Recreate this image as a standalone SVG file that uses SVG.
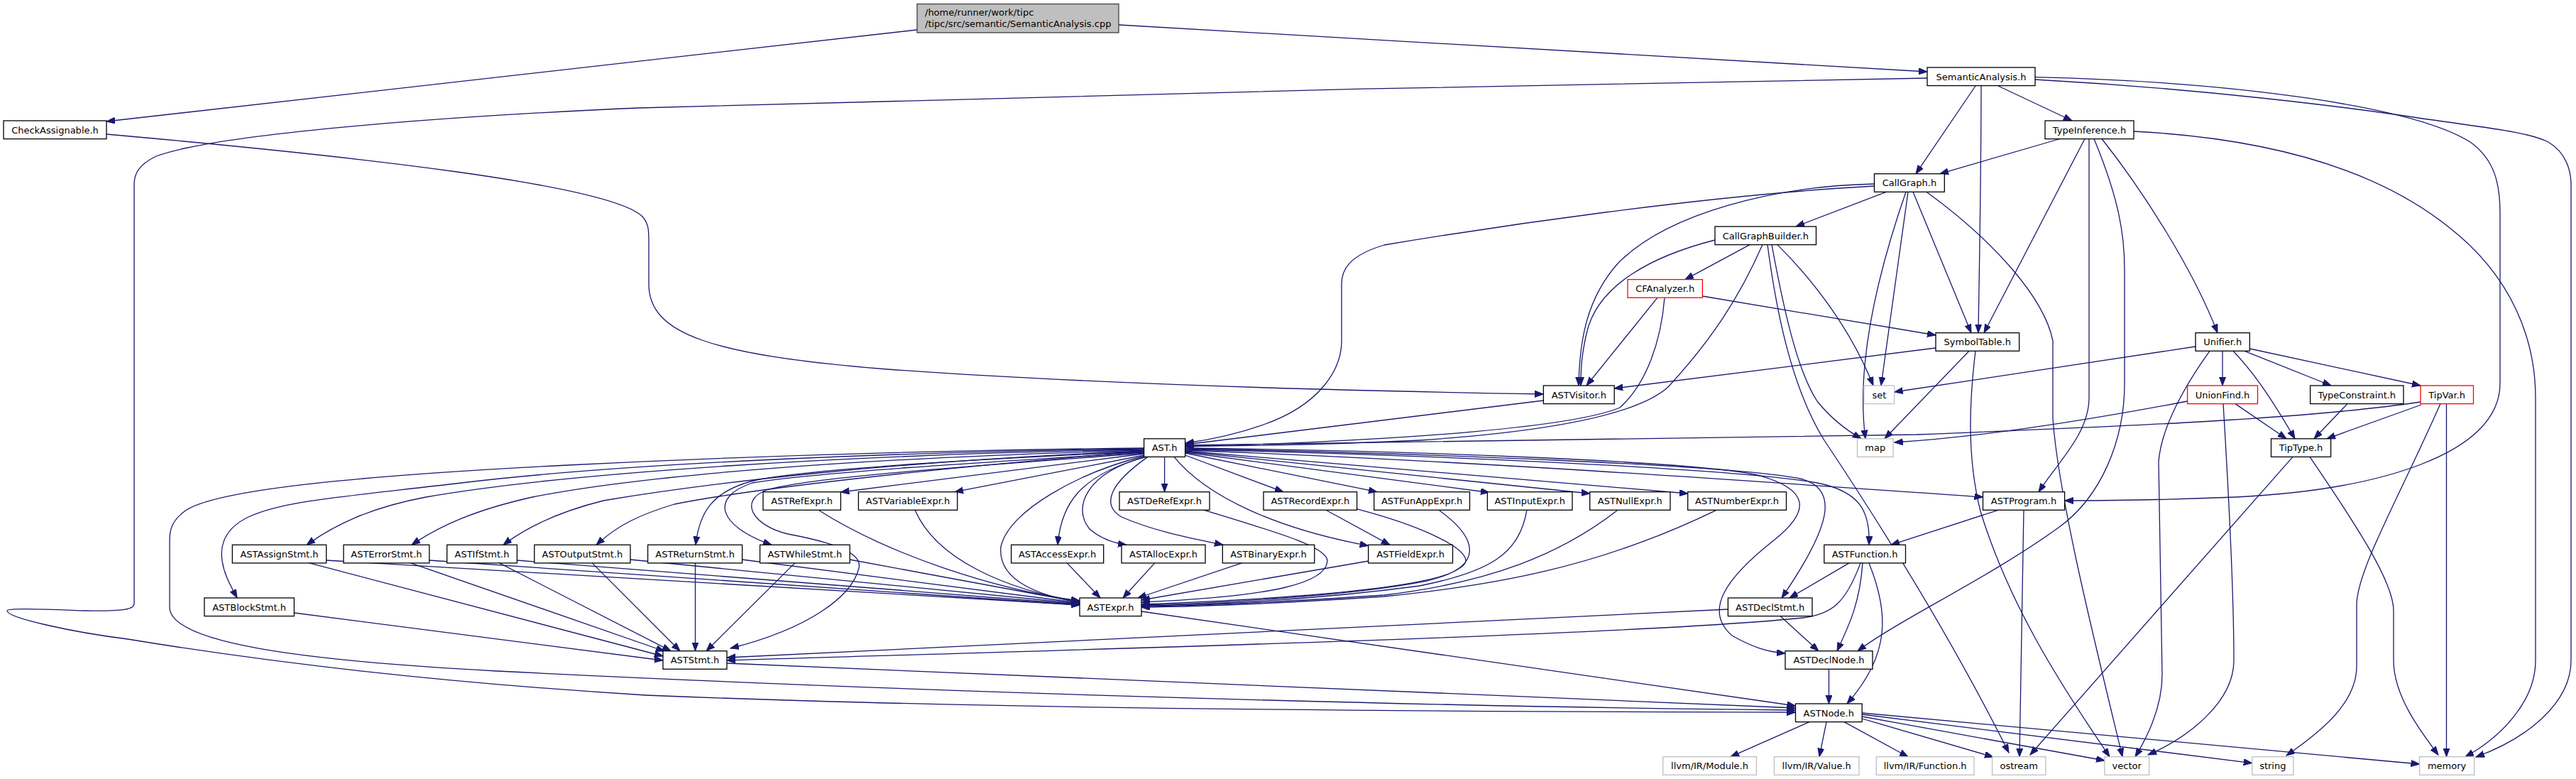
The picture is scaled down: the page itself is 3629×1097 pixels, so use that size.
<svg xmlns="http://www.w3.org/2000/svg" width="3629" height="1097" viewBox="0 0 3629 1097">
<defs>
<marker id="a" markerWidth="13" markerHeight="10" refX="12" refY="4.5" orient="auto" markerUnits="userSpaceOnUse"><path d="M0,0 L12,4.5 L0,9 z" fill="#191970" stroke="#191970" stroke-width="1"/></marker>
<style>
.e path{fill:none;stroke:#191970;stroke-width:1.3;marker-end:url(#a)}
.n rect{fill:#fff;stroke:#000;stroke-width:1.3}
.g rect{fill:#fff;stroke:#bfbfbf;stroke-width:1.3}
.r rect{fill:#fff;stroke:#ff0000;stroke-width:1.3}
text{font-family:"DejaVu Sans","Liberation Sans",sans-serif;font-size:13px;fill:#000;text-anchor:middle}
.root rect{fill:#bfbfbf;stroke:#404040;stroke-width:1.3}
.root text{text-anchor:start}
</style>
</defs>
<rect width="3629" height="1097" fill="#fff"/>
<g id="edges" class="e">
<path d="M1292,42 L150,171"/>
<path d="M1576,35 L2715,101"/>
<path d="M2783,121 L2699,244.7"/>
<path d="M2791,121 C2791,250 2788,400 2787,468.7"/>
<path d="M2815,121 L2919,170"/>
<path d="M2867,108.7 C3150,115 3400,150 3480,200 C3515,225 3522,260 3522,300 L3522,540 C3522,640 3350,690 3150,700 C3050,704 2960,705 2908.6,705"/>
<path d="M2867,112 C3100,125 3300,150 3400,165 C3500,180 3560,185 3590,200 C3615,215 3622,240 3622,260 L3622,930 C3622,990 3560,1040 3488,1066"/>
<path d="M2715,110 C2200,118 1200,140 900,152 C600,165 300,190 220,220 C195,232 189,245 189,260 L189,850 C189,858 175,861 120,860 C60,858 10,856 10,860 C10,870 100,890 180,900 C350,928 600,960 910,979 C1300,995 1800,1002 2529.5,1003"/>
<path d="M150,189 C500,220 860,260 905,305 C914,315 914,325 914,340 L914,400 C914,470 1000,500 1250,520 C1600,545 2000,552 2174.4,555"/>
<path d="M2902,195.5 L2733,244.7"/>
<path d="M2937,195.5 L2795,468.7"/>
<path d="M2943,195.5 L2943,560 C2943,610 2900,650 2872,692.7"/>
<path d="M2950,195.5 C2985,280 2993,330 2993,380 L2993,540 C2993,620 2960,700 2900,743 C2800,815 2680,870 2617,916.7"/>
<path d="M2961,195.5 C3020,270 3090,380 3124,468.7"/>
<path d="M3006,185 C3200,195 3350,240 3450,320 C3540,390 3572,480 3572,560 L3572,930 C3572,990 3520,1040 3473,1065.7"/>
<path d="M2657,270.3 L2530,319"/>
<path d="M2640.5,259 C2500,262 2350,300 2280,370 C2235,420 2225,480 2224,543"/>
<path d="M2640.5,262 C2400,275 2100,320 1950,345 C1900,360 1890,380 1890,400 L1890,480 C1890,520 1860,570 1780,598 C1740,612 1700,620 1670,624"/>
<path d="M2688,270.3 L2650,543"/>
<path d="M2685,270.3 C2640,400 2615,520 2628,617.8"/>
<path d="M2695,270.3 L2777,468.7"/>
<path d="M2714,270.3 C2810,340 2880,420 2892,480 L2892,590 C2900,700 2950,900 2990,1065.7"/>
<path d="M2465,344.6 L2374,393.6"/>
<path d="M2416,338 C2330,360 2250,400 2235,470 C2228,500 2227,520 2227,543"/>
<path d="M2483,344.6 C2450,420 2410,480 2350,545 C2300,590 2150,610 2000,620 C1850,627 1720,628 1670,628"/>
<path d="M2504,344.6 C2560,400 2610,470 2639,543"/>
<path d="M2496,344.6 C2510,420 2530,520 2560,565 C2580,590 2600,605 2622,617.8"/>
<path d="M2490,344.6 C2500,420 2520,540 2570,620 C2650,740 2750,900 2830,1060"/>
<path d="M2398.4,417 L2727,472"/>
<path d="M2335,419.2 L2235,543"/>
<path d="M2345,419.2 C2340,480 2320,540 2282,574 C2220,600 2000,620 1670,629"/>
<path d="M2727,490 L2274.2,547"/>
<path d="M2774,494.3 L2655,617.8"/>
<path d="M2783,494.3 C2775,560 2770,640 2790,720 C2830,850 2900,960 2972,1065.7"/>
<path d="M2174.4,564 L1670,626"/>
<path d="M3093,488 L2668.7,552"/>
<path d="M3131,494.3 L3131,543"/>
<path d="M3113,494.3 C3080,540 3045,600 3041,650 L3046,950 C3046,990 3030,1030 3008,1065.7"/>
<path d="M3146,494.3 C3180,530 3205,570 3233,617.8"/>
<path d="M3162,494.3 L3284,543"/>
<path d="M3169.3,491 L3410,543"/>
<path d="M3081.6,565 C2950,590 2800,615 2668.7,623"/>
<path d="M3149,568.6 L3221,617.8"/>
<path d="M3132,568.6 C3140,700 3147,850 3147,930 C3147,990 3080,1040 3026,1063"/>
<path d="M3307,568.6 L3260,617.8"/>
<path d="M3411,570 L3278,617.8"/>
<path d="M3410,566 C3250,590 3000,600 2700,612 C2300,620 1900,626 1670,627"/>
<path d="M3438,568.6 C3380,700 3322,800 3320,850 L3320,938 C3320,990 3270,1030 3221,1064"/>
<path d="M3446.5,568.6 L3446.5,1065.7"/>
<path d="M3230,643.4 L2860,1063"/>
<path d="M3254,643.4 C3320,740 3372,820 3372,860 L3372,930 C3372,980 3410,1030 3435,1063"/>
<path d="M1611.6,631 C1300,634 1000,645 800,655 C500,670 300,690 260,720 C243,733 239,745 239,760 L239,855 C239,905 420,930 700,945 C1300,975 2000,995 2529.5,1000"/>
<path d="M1611.6,632 C1300,636 900,650 650,680 C480,700 400,705 350,728 C315,745 310,770 313,790 C316,810 325,825 334,842"/>
<path d="M1611.6,633 C1200,640 800,665 600,700 C520,715 470,740 432,767.3"/>
<path d="M1611.6,634 C1200,645 900,670 750,700 C670,718 620,740 580,767.3"/>
<path d="M1611.6,635 C1250,650 1000,680 850,705 C790,720 745,740 709,767.3"/>
<path d="M1611.6,636 C1300,660 1050,690 950,710 C900,725 870,740 840,767.3"/>
<path d="M1611.6,636 C1400,645 1150,660 1070,675 C1000,690 985,725 980,767.3"/>
<path d="M1611.6,637 C1400,650 1150,665 1060,680 C1000,700 1010,740 1087,767.3"/>
<path d="M1611.6,638 C1400,655 1150,670 1080,690 C1040,705 1060,740 1110,752 C1180,765 1215,780 1210,800 C1200,840 1140,885 1029,913"/>
<path d="M1611.6,639 L1184.4,693"/>
<path d="M1612,641 L1345,692.7"/>
<path d="M1613,642 C1520,665 1420,720 1410,770 C1405,820 1470,840 1521,848"/>
<path d="M1614,643 C1520,670 1495,710 1490,767.3"/>
<path d="M1615,643.4 C1530,665 1510,715 1535,745 C1550,758 1570,765 1587,767.3"/>
<path d="M1617,643.4 C1565,680 1550,710 1580,728 C1630,750 1690,760 1723,767.3"/>
<path d="M1640.6,643.4 L1640.6,692.7"/>
<path d="M1654,643.4 C1700,700 1800,745 1927.7,768.5"/>
<path d="M1669.6,641 L1808,692.7"/>
<path d="M1669.6,638 L1940,692.7"/>
<path d="M1669.6,637 L2098,693.5"/>
<path d="M1669.6,636 L2240,695"/>
<path d="M1669.6,635 L2378,695"/>
<path d="M1669.6,634 C2100,650 2500,680 2793.5,700"/>
<path d="M1669.6,633 C2000,640 2450,660 2560,680 C2620,692 2635,720 2633,767.3"/>
<path d="M1669.6,632 C2000,638 2450,655 2540,675 C2590,690 2580,740 2510,842"/>
<path d="M1669.6,631 C2000,635 2400,650 2480,670 C2550,690 2550,720 2500,760 C2430,815 2400,860 2440,895 C2470,912 2490,918 2515,920"/>
<path d="M459.7,789 L1521,852"/>
<path d="M435,792.6 L934,924"/>
<path d="M604.8,789 L1521,852"/>
<path d="M578,792.6 L936,917"/>
<path d="M728.4,789 L1521,851"/>
<path d="M703,792.6 L945,916.7"/>
<path d="M888,788 L1521,850"/>
<path d="M834,792.6 L958,916.7"/>
<path d="M979.5,792.6 L979.5,916.7"/>
<path d="M1045.6,788 L1521,849"/>
<path d="M1120,792.6 L995,916.7"/>
<path d="M1197.2,788 L1521,848"/>
<path d="M414.4,863 L934,930"/>
<path d="M1153,718.3 C1250,780 1400,830 1521,846"/>
<path d="M1289,718.3 C1320,790 1420,830 1521,848"/>
<path d="M1503,792.6 L1550,842"/>
<path d="M1627,792.6 L1582,842"/>
<path d="M1750,792.6 L1603,842"/>
<path d="M1928,790 L1608,845"/>
<path d="M1696,718.3 C1800,750 1870,770 1870,790 C1868,820 1800,840 1608,848"/>
<path d="M1911,716.7 C2000,740 2065,770 2065,790 C2060,820 1900,840 1608,851"/>
<path d="M1868,718.3 L1958,767.3"/>
<path d="M2027,718.3 C2085,760 2090,800 2010,818 C1900,840 1700,850 1608,852"/>
<path d="M2151,718.3 C2140,780 2100,805 2000,825 C1850,845 1700,852 1608,853"/>
<path d="M2279,718.3 C2200,780 2100,820 1950,838 C1800,848 1700,853 1608,854"/>
<path d="M2418,718.3 C2250,800 2100,825 1950,840 C1800,850 1700,854 1608,855"/>
<path d="M1608,861 L2529.5,994"/>
<path d="M1024,934 L2529.5,997"/>
<path d="M2434.4,858 L1024,926"/>
<path d="M2621,792.9 C2600,850 2580,865 2540,870 C2300,895 1500,915 1024,930"/>
<path d="M2605,792.9 L2521,842"/>
<path d="M2624,792.9 C2620,850 2605,880 2588,916.7"/>
<path d="M2633,792.9 C2660,860 2665,920 2602,991"/>
<path d="M2508,867.6 L2562,916.7"/>
<path d="M2576.5,942.3 L2576.5,991"/>
<path d="M2815,718.3 L2664,767.3"/>
<path d="M2851,718.3 L2845,1065.7"/>
<path d="M2549,1016.6 L2438,1065.7"/>
<path d="M2573,1016.6 L2563,1065.7"/>
<path d="M2598,1016.6 L2688,1065.7"/>
<path d="M2623.2,1012 L2808,1066"/>
<path d="M2623.2,1009 L2965,1071"/>
<path d="M2623.2,1006 L3172.8,1074.6"/>
<path d="M2623.2,1004 L3408.6,1076"/>
</g>
<g id="root" class="root"><rect x="1292" y="5.6" width="284" height="40.4"/><text x="1303" y="22">/home/runner/work/tipc</text><text x="1303" y="38">/tipc/src/semantic/SemanticAnalysis.cpp</text></g>
<g id="SemanticAnalysis" class="n"><rect x="2715" y="95" width="152" height="25.6"/><text x="2791" y="112.5">SemanticAnalysis.h</text></g>
<g id="CheckAssignable" class="n"><rect x="5" y="170" width="145" height="25.6"/><text x="77.5" y="187.5">CheckAssignable.h</text></g>
<g id="TypeInference" class="n"><rect x="2881" y="170" width="125" height="25.6"/><text x="2943.5" y="187.5">TypeInference.h</text></g>
<g id="CallGraph" class="n"><rect x="2640.5" y="244.7" width="98.8" height="25.6"/><text x="2689.9" y="262.2">CallGraph.h</text></g>
<g id="CallGraphBuilder" class="n"><rect x="2416" y="319" width="142.5" height="25.6"/><text x="2487.3" y="336.5">CallGraphBuilder.h</text></g>
<g id="CFAnalyzer" class="r"><rect x="2293" y="393.6" width="105.4" height="25.6"/><text x="2345.7" y="411.1">CFAnalyzer.h</text></g>
<g id="SymbolTable" class="n"><rect x="2727" y="468.7" width="117.6" height="25.6"/><text x="2785.8" y="486.2">SymbolTable.h</text></g>
<g id="Unifier" class="n"><rect x="3093" y="468.7" width="76.3" height="25.6"/><text x="3131.2" y="486.2">Unifier.h</text></g>
<g id="ASTVisitor" class="n"><rect x="2174.4" y="543" width="99.8" height="25.6"/><text x="2224.3" y="560.5">ASTVisitor.h</text></g>
<g id="set" class="g"><rect x="2626" y="543" width="42.7" height="25.6"/><text x="2647.4" y="560.5">set</text></g>
<g id="UnionFind" class="r"><rect x="3081.6" y="543" width="98.9" height="25.6"/><text x="3131" y="560.5">UnionFind.h</text></g>
<g id="TypeConstraint" class="n"><rect x="3254.6" y="543" width="131.4" height="25.6"/><text x="3320.3" y="560.5">TypeConstraint.h</text></g>
<g id="TipVar" class="r"><rect x="3410" y="543" width="74.5" height="25.6"/><text x="3447.2" y="560.5">TipVar.h</text></g>
<g id="AST" class="n"><rect x="1611.6" y="617.8" width="58" height="25.6"/><text x="1640.6" y="635.3">AST.h</text></g>
<g id="map" class="g"><rect x="2616.5" y="617.8" width="50.5" height="25.6"/><text x="2641.7" y="635.3">map</text></g>
<g id="TipType" class="n"><rect x="3199.5" y="617.8" width="84.1" height="25.6"/><text x="3241.5" y="635.3">TipType.h</text></g>
<g id="ASTRefExpr" class="n"><rect x="1075" y="692.7" width="109.4" height="25.6"/><text x="1129.7" y="710.2">ASTRefExpr.h</text></g>
<g id="ASTVariableExpr" class="n"><rect x="1209.4" y="692.7" width="139.3" height="25.6"/><text x="1279" y="710.2">ASTVariableExpr.h</text></g>
<g id="ASTDeRefExpr" class="n"><rect x="1577" y="692.7" width="127" height="25.6"/><text x="1640.5" y="710.2">ASTDeRefExpr.h</text></g>
<g id="ASTRecordExpr" class="n"><rect x="1780" y="692.7" width="131.6" height="25.6"/><text x="1845.8" y="710.2">ASTRecordExpr.h</text></g>
<g id="ASTFunAppExpr" class="n"><rect x="1935.7" y="692.7" width="134.8" height="25.6"/><text x="2003.1" y="710.2">ASTFunAppExpr.h</text></g>
<g id="ASTInputExpr" class="n"><rect x="2095.4" y="692.7" width="119.6" height="25.6"/><text x="2155.2" y="710.2">ASTInputExpr.h</text></g>
<g id="ASTNullExpr" class="n"><rect x="2239.7" y="692.7" width="113.3" height="25.6"/><text x="2296.3" y="710.2">ASTNullExpr.h</text></g>
<g id="ASTNumberExpr" class="n"><rect x="2377.7" y="692.7" width="138.8" height="25.6"/><text x="2447.1" y="710.2">ASTNumberExpr.h</text></g>
<g id="ASTProgram" class="n"><rect x="2793.5" y="692.7" width="115.1" height="25.6"/><text x="2851" y="710.2">ASTProgram.h</text></g>
<g id="ASTAssignStmt" class="n"><rect x="327.3" y="767.3" width="132.4" height="25.6"/><text x="393.5" y="784.8">ASTAssignStmt.h</text></g>
<g id="ASTErrorStmt" class="n"><rect x="484" y="767.3" width="120.8" height="25.6"/><text x="544.4" y="784.8">ASTErrorStmt.h</text></g>
<g id="ASTIfStmt" class="n"><rect x="629.7" y="767.3" width="98.7" height="25.6"/><text x="679" y="784.8">ASTIfStmt.h</text></g>
<g id="ASTOutputStmt" class="n"><rect x="752.8" y="767.3" width="135.2" height="25.6"/><text x="820.4" y="784.8">ASTOutputStmt.h</text></g>
<g id="ASTReturnStmt" class="n"><rect x="912.6" y="767.3" width="133" height="25.6"/><text x="979.1" y="784.8">ASTReturnStmt.h</text></g>
<g id="ASTWhileStmt" class="n"><rect x="1070.6" y="767.3" width="126.6" height="25.6"/><text x="1133.9" y="784.8">ASTWhileStmt.h</text></g>
<g id="ASTAccessExpr" class="n"><rect x="1424.6" y="767.3" width="130.1" height="25.6"/><text x="1489.6" y="784.8">ASTAccessExpr.h</text></g>
<g id="ASTAllocExpr" class="n"><rect x="1580" y="767.3" width="118" height="25.6"/><text x="1639" y="784.8">ASTAllocExpr.h</text></g>
<g id="ASTBinaryExpr" class="n"><rect x="1722.3" y="767.3" width="129.5" height="25.6"/><text x="1787" y="784.8">ASTBinaryExpr.h</text></g>
<g id="ASTFieldExpr" class="n"><rect x="1927.7" y="767.3" width="118.8" height="25.6"/><text x="1987.1" y="784.8">ASTFieldExpr.h</text></g>
<g id="ASTFunction" class="n"><rect x="2569.8" y="767.3" width="114.7" height="25.6"/><text x="2627.1" y="784.8">ASTFunction.h</text></g>
<g id="ASTBlockStmt" class="n"><rect x="287.9" y="842" width="126.5" height="25.6"/><text x="351.1" y="859.5">ASTBlockStmt.h</text></g>
<g id="ASTExpr" class="n"><rect x="1521" y="842" width="87" height="25.6"/><text x="1564.5" y="859.5">ASTExpr.h</text></g>
<g id="ASTDeclStmt" class="n"><rect x="2434.4" y="842" width="118.6" height="25.6"/><text x="2493.7" y="859.5">ASTDeclStmt.h</text></g>
<g id="ASTStmt" class="n"><rect x="934" y="916.7" width="90" height="25.6"/><text x="979" y="934.2">ASTStmt.h</text></g>
<g id="ASTDeclNode" class="n"><rect x="2515" y="916.7" width="123" height="25.6"/><text x="2576.5" y="934.2">ASTDeclNode.h</text></g>
<g id="ASTNode" class="n"><rect x="2529.5" y="991" width="93.7" height="25.6"/><text x="2576.3" y="1008.5">ASTNode.h</text></g>
<g id="llvmModule" class="g"><rect x="2342.7" y="1065.7" width="131.7" height="25.6"/><text x="2408.5" y="1083.2">llvm/IR/Module.h</text></g>
<g id="llvmValue" class="g"><rect x="2499.4" y="1065.7" width="119.6" height="25.6"/><text x="2559.2" y="1083.2">llvm/IR/Value.h</text></g>
<g id="llvmFunction" class="g"><rect x="2643.3" y="1065.7" width="137.7" height="25.6"/><text x="2712.1" y="1083.2">llvm/IR/Function.h</text></g>
<g id="ostream" class="g"><rect x="2806.6" y="1065.7" width="75.3" height="25.6"/><text x="2844.2" y="1083.2">ostream</text></g>
<g id="vector" class="g"><rect x="2964.9" y="1065.7" width="62.7" height="25.6"/><text x="2996.2" y="1083.2">vector</text></g>
<g id="string" class="g"><rect x="3172.8" y="1065.7" width="58.1" height="25.6"/><text x="3201.8" y="1083.2">string</text></g>
<g id="memory" class="g"><rect x="3408.6" y="1065.7" width="77" height="25.6"/><text x="3447.1" y="1083.2">memory</text></g>
</svg>
